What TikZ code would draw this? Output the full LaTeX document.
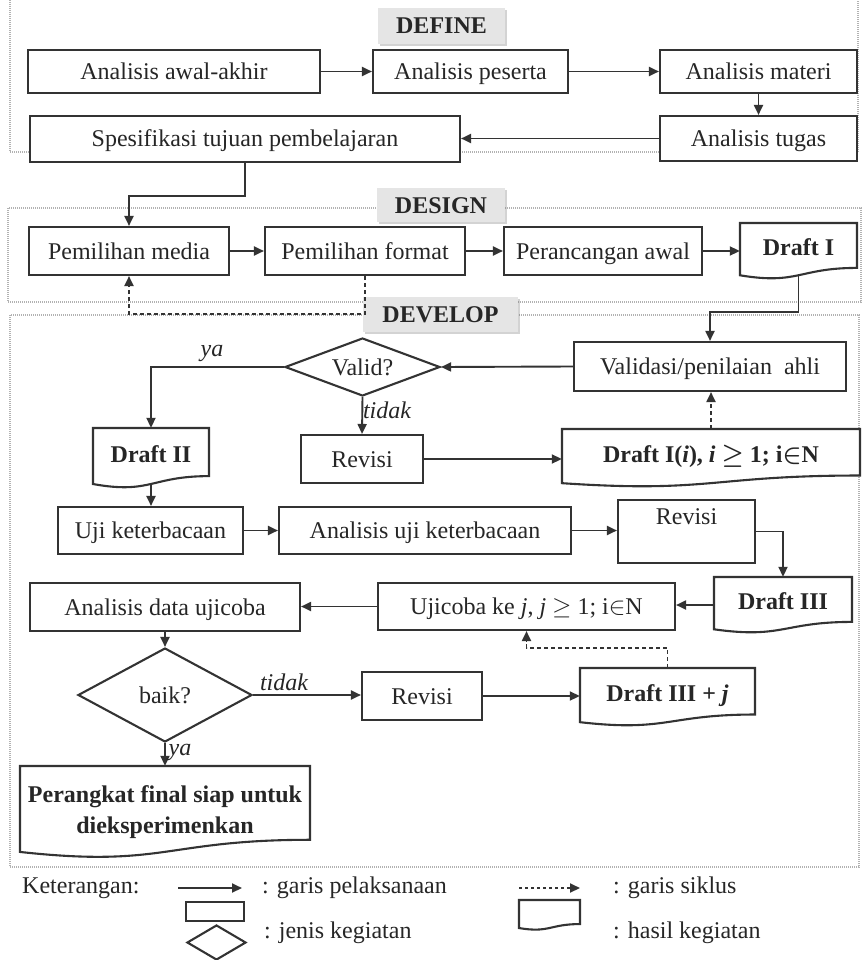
\documentclass[tikz,border=0pt]{standalone}
\usepackage{fontspec}
\setmainfont{Liberation Serif}
\usetikzlibrary{arrows.meta,shapes.geometric,shadows,calc}
\newcommand{\docnode}[7][]{%
  \draw[boxline,fill=white] ({#3-#5/2},{#4-#6/2}) -- ({#3+#5/2},{#4-#6/2}) -- ({#3+#5/2},{#4-#6/2+0.802*#6}) .. controls ({#3},{#4-#6/2+0.802*#6}) and ({#3},{#4-#6/2+1.107*#6}) .. ({#3-#5/2},{#4-#6/2+0.934*#6}) -- cycle;
  \node[docbox,minimum width=#5pt,minimum height=#6pt,#1] (#2) at (#3,#4) {#7};
  \coordinate (#2-b) at (#3,{#4-#6/2+0.933*#6});
}
\begin{document}
\begin{tikzpicture}[x=1pt,y=-1pt,
  font=\fontsize{24}{27}\selectfont,
  every node/.style={text=black!85},
  boxline/.style={draw=black!80,line width=2.1pt},
  box/.style={boxline,fill=white,rectangle,inner sep=0pt,text height=20pt,text depth=4pt},
  docbox/.style={draw=none,rectangle,inner sep=0pt,align=center,text height=18pt,text depth=9pt,font=\fontsize{24}{31}\selectfont\bfseries},
  dia/.style={boxline,fill=white,diamond,inner sep=0pt},
  conn/.style={draw=black!80,line width=1.9pt,-{Triangle[length=10pt,width=9pt]}},
  cyc/.style={conn,dash pattern=on 4pt off 3pt},
  frame/.style={draw=gray!60,line width=2pt,dash pattern=on 1pt off 1pt},
  phase/.style={fill=gray!20,inner sep=0pt,text height=20pt,text depth=4pt,font=\fontsize{24}{27}\selectfont\bfseries,drop shadow={shadow xshift=2pt,shadow yshift=-2pt,opacity=0.35}},
  lab/.style={font=\fontsize{24}{27}\selectfont\itshape,inner sep=0pt},
  leg/.style={anchor=west,inner sep=0pt},
]
\useasboundingbox (0,0) rectangle (862,960);
% frames
\draw[frame] (10,0) -- (10,152) -- (858,152) -- (858,0);
\draw[frame] (8,208) rectangle (861,302);
\draw[frame] (10,315) rectangle (859,867);
% phase labels
\node[phase,minimum width=127pt,minimum height=36pt] (pdef) at (441.5,26) {DEFINE};
\node[phase,minimum width=128pt,minimum height=34pt] (pdes) at (441,205) {DESIGN};
\node[phase,minimum width=155pt,minimum height=35pt] (pdev) at (440.5,314.5) {DEVELOP};
% DEFINE
\node[box,minimum width=292pt,minimum height=43pt] (aa) at (174,71.5) {Analisis awal-akhir};
\node[box,minimum width=195pt,minimum height=43pt] (ap) at (470.5,71.5) {Analisis peserta};
\node[box,minimum width=197pt,minimum height=43pt] (am) at (758.5,71.5) {Analisis materi};
\node[box,minimum width=197pt,minimum height=45pt] (at) at (758.5,138.5) {Analisis tugas};
\node[box,minimum width=430pt,minimum height=46pt] (sp) at (245,139) {Spesifikasi tujuan pembelajaran};
% DESIGN
\node[box,minimum width=200pt,minimum height=48pt] (pm) at (129,251) {Pemilihan media};
\node[box,minimum width=200pt,minimum height=48pt] (pfo) at (365,251) {Pemilihan format};
\node[box,minimum width=198pt,minimum height=48pt] (pa) at (603,251) {Perancangan awal};
\docnode{d1}{798.5}{251}{117}{56}{Draft I}
% DEVELOP
\node[box,minimum width=272pt,minimum height=49pt] (va) at (710,366.5) {Validasi/penilaian\ \ ahli};
\node[dia,minimum width=155pt,minimum height=58pt,aspect=2.7] (valid) at (362.5,367) {Valid?};
\node[box,minimum width=122pt,minimum height=48pt] (r1) at (362,459) {Revisi};
\docnode{di}{711}{458}{298}{58}{Draft I(\textit{i}), \textit{i} {\boldmath$\geq$} 1; i{\boldmath$\in$}N}
\docnode{d2}{151}{458}{116}{60}{Draft II}
\node[box,minimum width=185pt,minimum height=47pt] (uk) at (150.5,530.5) {Uji keterbacaan};
\node[box,minimum width=292pt,minimum height=47pt] (au) at (425,530.5) {Analisis uji keterbacaan};
\node[box,minimum width=137pt,minimum height=63pt] (r2) at (686.5,531.5) {};
\node[inner sep=0pt] (r2t) at (686.5,517) {Revisi};
\docnode{d3}{783}{605}{138}{56}{Draft III}
\node[box,minimum width=297pt,minimum height=47pt] (uj) at (526.5,606.5) {Ujicoba ke \textit{j}, \textit{j} $\geq$ 1; i$\in$N};
\node[box,minimum width=270pt,minimum height=48pt] (ad) at (165,607) {Analisis data ujicoba};
\node[dia,minimum width=174pt,minimum height=94pt,aspect=1.85] (bk) at (165,695) {baik?};
\node[box,minimum width=120pt,minimum height=48pt] (r3) at (422,696) {Revisi};
\docnode{d4}{667.5}{697}{175}{58}{Draft III + \textit{j}}
\docnode[text height=,text depth=]{fin}{165}{812}{290}{92}{Perangkat final siap untuk\\dieksperimenkan}
% connectors
\draw[conn] (aa.east) -- (ap.west);
\draw[conn] (ap.east) -- (am.west);
\draw[conn] (am.south) -- (at.north);
\draw[conn] (at.west) -- (at.west -| sp.east);
\draw[conn] (sp.south) -- ++(0,33) -| (pm.north);
\draw[conn] (pm.east) -- (pfo.west);
\draw[conn] (pfo.east) -- (pa.west);
\draw[conn] (pa.east) -- (d1.west);
\coordinate (k1) at (798.5,312);
\draw[conn] (d1-b) -- (k1) -| (va.north);
\draw[conn] (va.west) -- (valid.east);
\draw[conn] (valid.west) -| (d2.north);
\draw[conn] (valid.south) -- (r1.north);
\draw[conn] (r1.east) -- (r1.east -| di.west);
\draw[cyc] (di.north) -- (di.north |- va.south);
\draw[conn] (d2-b) -- (d2-b |- uk.north);
\draw[conn] (uk.east) -- (au.west);
\draw[conn] (au.east) -- (au.east -| r2.west);
\draw[conn] (r2.east) -| (d3.north);
\draw[conn] (d3.west) -- (d3.west -| uj.east);
\draw[conn] (uj.west) -- (uj.west -| ad.east);
\draw[conn] (ad.south) -- (bk.north);
\draw[conn] (bk.east) -- (bk.east -| r3.west);
\draw[conn] (r3.east) -- (r3.east -| d4.west);
\draw[cyc] (d4.north) -- ++(0,-20) -| (uj.south);
\draw[conn] (bk.south) -- (fin.north);
\draw[cyc] (pfo.south) -- ++(0,38) -| (pm.south);
% branch labels
\node[lab] (ya1) at (212,353) {ya};
\node[lab] (td1) at (387,410) {tidak};
\node[lab] (td2) at (284,682) {tidak};
\node[lab] (ya2) at (180,752) {ya};
% legend
\node[leg] (ket) at (22,888) {Keterangan:};
\coordinate (la1) at (178,888);
\coordinate (la2) at (242,888);
\draw[conn] (la1) -- (la2);
\node[leg] (lt1) at (262,888) {: garis pelaksanaan};
\coordinate (lb1) at (519,888);
\coordinate (lb2) at (580,888);
\draw[conn,dash pattern=on 3pt off 3pt] (lb1) -- (lb2);
\node[leg] (lt2) at (613,888) {: garis siklus};
\node[box,minimum width=58pt,minimum height=19pt,text height=,text depth=] (lrect) at (215,911.5) {};
\node[dia,minimum width=59pt,minimum height=35pt,aspect=1.7] (ldia) at (216.5,942.5) {};
\node[leg] (lt3) at (264,933) {: jenis kegiatan};
\docnode[text height=,text depth=]{ldoc}{549.5}{915}{61}{30}{}
\node[leg] (lt4) at (613,933) {: hasil kegiatan};
\end{tikzpicture}
\end{document}
